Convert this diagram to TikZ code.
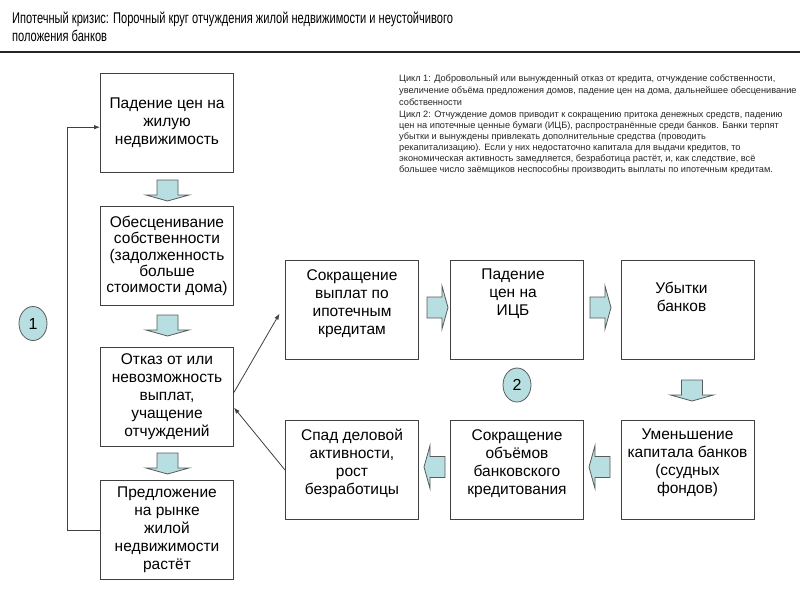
\documentclass[tikz,border=0pt]{standalone}
\usepackage{fontspec}
\setmainfont{Liberation Sans}
\newfontfamily\titlefont{Liberation Sans}[FakeStretch=0.715]
\usetikzlibrary{arrows.meta,shapes.geometric,positioning}
\definecolor{boxline}{RGB}{64,64,64}
\definecolor{arrfill}{RGB}{183,222,224}
\definecolor{arrline}{RGB}{90,90,90}
\begin{document}
\begin{tikzpicture}[x=1pt,y=-1pt,
    box/.style={draw=boxline,line width=1pt,minimum width=133pt,minimum height=99pt,
      inner sep=0pt,align=center,font=\fontsize{15.5}{18}\selectfont},
    boxtext/.style={inner sep=0pt,align=center,font=\fontsize{15.5}{18}\selectfont},
    circ/.style={ellipse,draw=arrline,fill=arrfill,line width=0.8pt,minimum width=28pt,
      minimum height=34pt,inner sep=0pt,font=\fontsize{16}{18}\selectfont},
    conn/.style={draw=boxline,line width=0.8pt,-{Latex[length=6pt,width=4.5pt]}},
    note/.style={anchor=north west,inner sep=0pt,align=left,text=black!85},
    bigarrow/.pic={\draw[draw=arrline,fill=arrfill,line width=0.8pt]
      (0,-10.5) -- (15,-10.5) -- (15,-21.5) -- (21,0) -- (15,21.5) -- (15,10.5) -- (0,10.5) -- cycle;}]
  \useasboundingbox[fill=white] (0,0) rectangle (800,600);

  % title
  \node[anchor=north west,inner sep=0pt,align=left,
    font=\titlefont\fontsize{15.5}{18}\selectfont] (title) at (12,12)
    {Ипотечный кризис: Порочный круг отчуждения жилой недвижимости и неустойчивого\\
     положения банков};
  \draw[line width=2pt,draw=black!85] (0,51.5) -- (800,51.5);

  % notes
  \node[note,font=\fontsize{9.2}{12.2}\selectfont] (cycle1) at (399,74)
    {Цикл 1: Добровольный или вынужденный отказ от кредита, отчуждение собственности,\\
     увеличение объёма предложения домов, падение цен на дома, дальнейшее обесценивание\\
     собственности};
  \node[note,font=\fontsize{9.2}{10.9}\selectfont] (cycle2) at (399,111)
    {Цикл 2: Отчуждение домов приводит к сокращению притока денежных средств, падению\\
     цен на ипотечные ценные бумаги (ИЦБ), распространённые среди банков. Банки терпят\\
     убытки и вынуждены привлекать дополнительные средства (проводить\\
     рекапитализацию). Если у них недостаточно капитала для выдачи кредитов, то\\
     экономическая активность замедляется, безработица растёт, и, как следствие, всё\\
     большее число заёмщиков неспособны производить выплаты по ипотечным кредитам.};

  % cycle 1
  \node[box] (a) at (167,122.5) {Падение цен на\\жилую\\недвижимость};
  \node[box,font=\fontsize{15.5}{16.2}\selectfont] (b) at (167,256)
    {Обесценивание\\собственности\\(задолженность\\больше\\стоимости дома)};
  \node[box] (c) at (167,397) {Отказ от или\\невозможность\\выплат,\\учащение\\отчуждений};
  \node[box] (d) at (167,530) {Предложение\\на рынке\\жилой\\недвижимости\\растёт};
  \node[circ] (one) at (33,323.5) {1};

  % cycle 2
  \node[box] (e) at (352,310) {};
  \node[box] (f) at (517,310) {};
  \node[box] (g) at (687.5,310) {};
  \node[box] (h) at (352,470) {};
  \node[box] (i) at (517,470) {};
  \node[box] (j) at (687.5,470) {};
  \node[boxtext,below=9pt of e.north] (etext) {Сокращение\\выплат по\\ипотечным\\кредитам};
  \node[boxtext,below=9pt of f.north,xshift=-4pt] (ftext) {Падение\\цен на\\ИЦБ};
  \node[boxtext,below=22pt of g.north,xshift=-6pt] (gtext) {Убытки\\банков};
  \node[boxtext,below=9pt of h.north] (htext) {Спад деловой\\активности,\\рост\\безработицы};
  \node[boxtext,below=9pt of i.north] (itext) {Сокращение\\объёмов\\банковского\\кредитования};
  \node[boxtext,below=9pt of j.north] (jtext) {Уменьшение\\капитала банков\\(ссудных\\фондов)};
  \node[circ] (two) at (517,385) {2};

  % block arrows
  \pic[rotate=-90] at (167.5,180) {bigarrow};
  \pic[rotate=-90] at (167.5,315) {bigarrow};
  \pic[rotate=-90] at (167.5,453) {bigarrow};
  \pic at (427,307.5) {bigarrow};
  \pic at (590,307.5) {bigarrow};
  \pic[rotate=-90] at (692,380) {bigarrow};
  \pic[rotate=180] at (610,467) {bigarrow};
  \pic[rotate=180] at (445,467) {bigarrow};

  % connectors
  \draw[conn] (d.west) -- ++(-33,0) |- (a.184);
  \draw[conn,shorten >=11pt] (c.4) -- (e.175);
  \draw[conn] (h.west) -- (c.-9);
\end{tikzpicture}
\end{document}
